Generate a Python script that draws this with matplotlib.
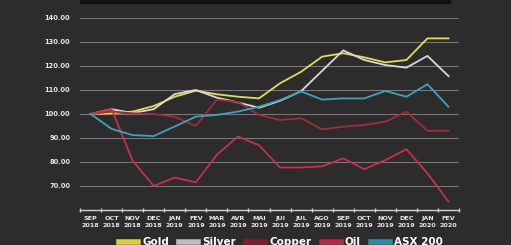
import matplotlib.pyplot as plt
import numpy as np
from matplotlib.lines import Line2D
from matplotlib.patches import Rectangle

months = ["SEP\n2018", "OCT\n2018", "NOV\n2018", "DEC\n2018", "JAN\n2019", "FEV\n2019",
          "MAR\n2019", "AVR\n2019", "MAI\n2019", "JUI\n2019", "JUL\n2019", "AGO\n2019",
          "SEP\n2019", "OCT\n2019", "NOV\n2019", "DEC\n2019", "JAN\n2020", "FEV\n2020"]

gold = [100, 100.3, 101, 103.3, 107.2, 109.7, 108.2, 107.2, 106.5, 112.8, 117.6, 123.9,
        125.3, 123.6, 121.5, 122.5, 131.5, 131.5]
silver = [100, 102, 100.4, 102, 108.3, 110, 106.8, 104.8, 102.6, 105.5, 109.5, 118,
          126.5, 122.5, 120.4, 119.3, 124.2, 115.8]
copper = [100, 101, 100.3, 100, 98.8, 95, 106, 105, 99.6, 97.5, 98.2, 93.6,
          94.7, 95.4, 96.8, 101, 93, 93]
oil = [100, 102, 80.5, 70, 73.5, 71.5, 83, 90.6, 87, 77.7, 77.7, 78.2,
       81.5, 77, 80.8, 85.3, 75.3, 63.5]
asx = [100, 93.8, 91.2, 90.8, 94.8, 98.9, 99.6, 101, 103, 105.8, 109.4, 106,
       106.5, 106.5, 109.6, 107.2, 112.4, 103]

labels = ["Gold", "Silver", "Copper", "Oil", "ASX 200"]
series = [gold, silver, copper, oil, asx]
colors = ["#e4de4c", "#dcd6dc", "#a8283a", "#c92f4a", "#3ba2c4"]
legend_colors = ["#d8d040", "#bdbdbd", "#7e1e2c", "#b8284c", "#2a8ca6"]

bg = "#2c2c2c"
fig = plt.figure(figsize=(5.11, 2.45), dpi=100, facecolor=bg)
ax = fig.add_axes([0.1566, 0.1429, 0.7417, 0.7837])
ax.set_facecolor(bg)

x = np.arange(len(months))
for vals, c in zip(series, colors):
    ax.plot(x, vals, color=c, lw=1.3, zorder=3)

ax.set_xlim(-0.5, len(months) - 0.5)
ax.set_ylim(60, 140)
ax.set_yticks(np.arange(70, 141, 10))
ax.set_yticklabels(["%.2f" % v for v in np.arange(70, 141, 10)])
ax.grid(axis="y", color="#767676", lw=0.8, zorder=1)
for s in ["top", "right", "left"]:
    ax.spines[s].set_visible(False)
ax.spines["bottom"].set_color("#d0d0d0")
ax.spines["bottom"].set_linewidth(1.0)

ax.set_xticks(x)
ax.set_xticklabels(months)
ax.set_xticks(np.arange(-0.5, len(months)), minor=True)
ax.tick_params(axis="x", which="major", length=0, pad=4, labelsize=4.6, labelcolor="#e8e8e8")
ax.tick_params(axis="x", which="minor", length=2.5, width=1, direction="inout", color="#d0d0d0")
ax.tick_params(axis="y", length=0, pad=7, labelsize=4.8, labelcolor="#e8e8e8")
for t in ax.get_xticklabels() + ax.get_yticklabels():
    t.set_fontweight("bold")
    t.set_linespacing(1.6)

# title box cut off at the top
fig.patches.append(Rectangle((80 / 511, 242 / 245), 370 / 511, 3 / 245,
                             transform=fig.transFigure, color="#111111"))

handles = [Line2D([], [], color=c, lw=4) for c in legend_colors]
fig.legend(handles, labels, loc="upper center", bbox_to_anchor=(0.55, 0.052), ncol=5,
           frameon=False, labelcolor="white", borderpad=0, handlelength=1.8,
           handletextpad=0.4, columnspacing=1.0, prop={"weight": "bold", "size": 7.5})

fig.savefig("out.png", dpi=100, facecolor=bg)
